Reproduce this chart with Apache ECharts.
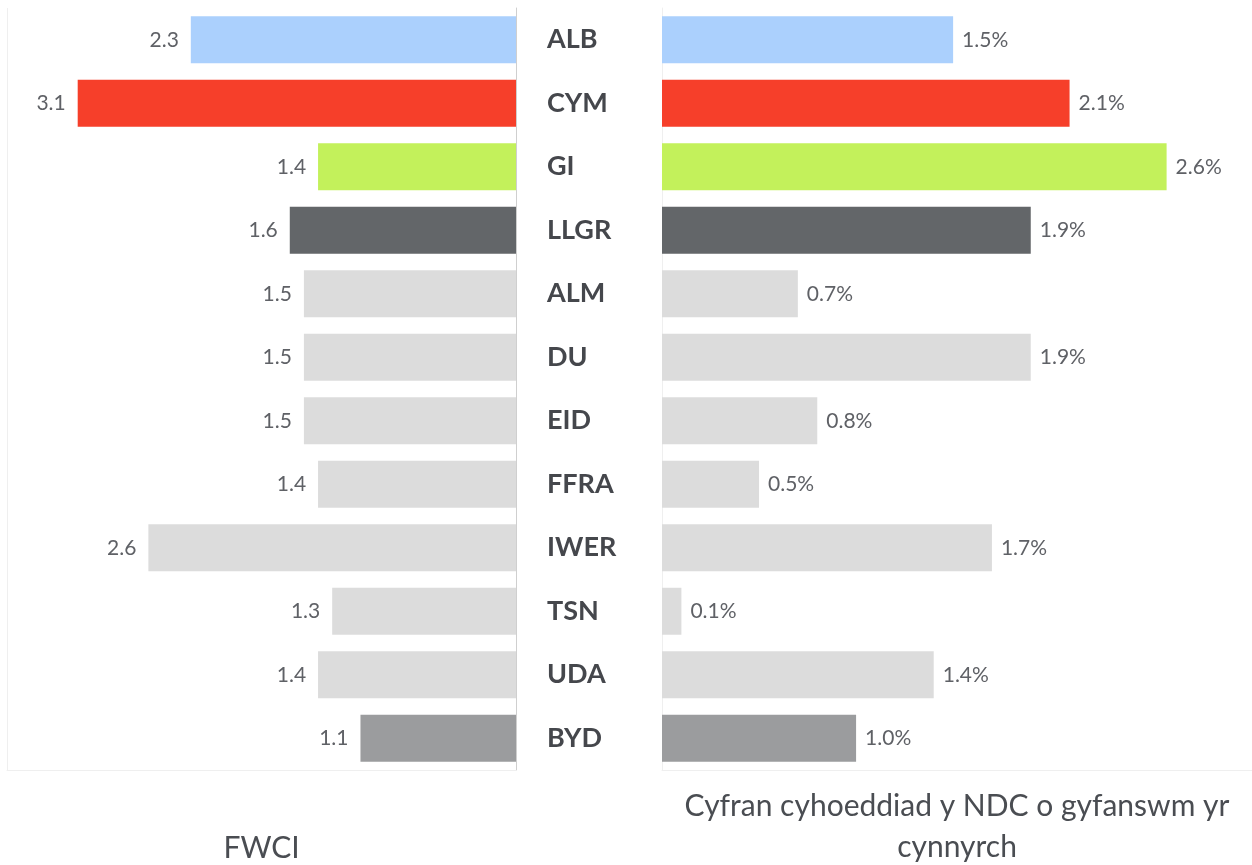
<!DOCTYPE html>
<html>
<head>
<meta charset="utf-8">
<script src="https://cdn.jsdelivr.net/npm/echarts@6/dist/echarts.min.js"></script>
<style>
  html, body { margin: 0; padding: 0; background: #ffffff; }
  #chart { width: 1252px; height: 865px; }
</style>
</head>
<body>
<div id="chart"></div>
<script>
// Nations / regions compared
const categories = ['ALB', 'CYM', 'GI', 'LLGR', 'ALM', 'DU', 'EID', 'FFRA', 'IWER', 'TSN', 'UDA', 'BYD'];
// Field-weighted citation impact
const fwciValues = [2.3, 3.1, 1.4, 1.6, 1.5, 1.5, 1.5, 1.4, 2.6, 1.3, 1.4, 1.1];
// Share of total output (%)
const shareValues = [1.5, 2.1, 2.6, 1.9, 0.7, 1.9, 0.8, 0.5, 1.7, 0.1, 1.4, 1.0];
// One colour per category
const barColors = ['#abd0fd', '#f63f2a', '#c3f15b', '#636669', '#dcdcdc', '#dcdcdc',
                   '#dcdcdc', '#dcdcdc', '#dcdcdc', '#dcdcdc', '#dcdcdc', '#9b9c9e'];

const FONT = 'Lato, "Open Sans", sans-serif';
const valueLabel = { fontFamily: FONT, fontSize: 21, color: '#5f6166' };

const chart = echarts.init(document.getElementById('chart'));

const leftData = fwciValues.map((v, i) => ({ value: v, itemStyle: { color: barColors[i] } }));
const rightData = shareValues.map((v, i) => ({ value: v, itemStyle: { color: barColors[i] } }));

chart.setOption({
  animation: false,
  grid: [
    { left: 7, right: 736, top: 8, bottom: 95, outerBoundsMode: 'none', containLabel: false },
    { left: 662, right: 0, top: 8, bottom: 95, outerBoundsMode: 'none', containLabel: false }
  ],
  xAxis: [
    {
      gridIndex: 0, type: 'value', inverse: true, min: 0, max: 3.6, interval: 3.6,
      axisLine: { show: true, lineStyle: { color: '#efefef', width: 1 } },
      axisTick: { show: false }, axisLabel: { show: false },
      splitLine: { show: true, lineStyle: { color: '#efefef', width: 1 } },
      name: 'FWCI', nameLocation: 'middle', nameGap: 58,
      nameTextStyle: { fontFamily: FONT, fontSize: 30, color: '#4a4d52', lineHeight: 41 }
    },
    {
      gridIndex: 1, type: 'value', min: 0, max: 3.04,
      axisLine: { show: true, lineStyle: { color: '#efefef', width: 1 } },
      axisTick: { show: false }, axisLabel: { show: false }, splitLine: { show: false },
      name: 'Cyfran cyhoeddiad y NDC o gyfanswm yr\ncynnyrch', nameLocation: 'middle', nameGap: 16,
      nameTextStyle: { fontFamily: FONT, fontSize: 30, color: '#4a4d52', lineHeight: 41 }
    }
  ],
  yAxis: [
    {
      gridIndex: 0, type: 'category', data: categories, inverse: true, position: 'right',
      axisLine: { show: true, lineStyle: { color: '#cfcfcf', width: 1 } },
      axisTick: { show: false }, axisLabel: { show: false }
    },
    {
      gridIndex: 1, type: 'category', data: categories, inverse: true,
      axisLine: { show: true, lineStyle: { color: '#efefef', width: 1 } },
      axisTick: { show: false },
      axisLabel: {
        align: 'left', margin: 115,
        fontFamily: FONT, fontSize: 27, fontWeight: 'bold', color: '#45474c'
      }
    }
  ],
  series: [
    {
      type: 'bar', xAxisIndex: 0, yAxisIndex: 0, data: leftData, barCategoryGap: '26%',
      label: Object.assign({ show: true, position: 'left', distance: 12,
        formatter: p => p.value.toFixed(1) }, valueLabel)
    },
    {
      type: 'bar', xAxisIndex: 1, yAxisIndex: 1, data: rightData, barCategoryGap: '26%',
      label: Object.assign({ show: true, position: 'right', distance: 9,
        formatter: p => p.value.toFixed(1) + '%' }, valueLabel)
    }
  ]
});
</script>
</body>
</html>
